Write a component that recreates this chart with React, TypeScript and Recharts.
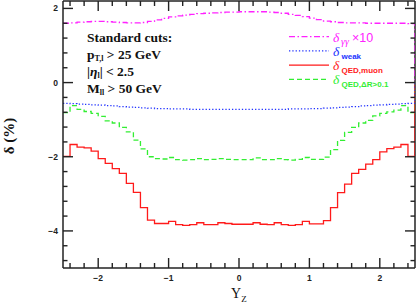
import { LineChart, Line, XAxis, YAxis, ReferenceLine } from 'recharts';

// lower edges of the 0.1-wide Y_Z bins
const BIN_LO = [
  -2.5, -2.4, -2.3, -2.2, -2.1, -2.0, -1.9, -1.8, -1.7, -1.6,
  -1.5, -1.4, -1.3, -1.2, -1.1, -1.0, -0.9, -0.8, -0.7, -0.6,
  -0.5, -0.4, -0.3, -0.2, -0.1, 0, 0.1, 0.2, 0.3, 0.4,
  0.5, 0.6, 0.7, 0.8, 0.9, 1.0, 1.1, 1.2, 1.3, 1.4,
  1.5, 1.6, 1.7, 1.8, 1.9, 2.0, 2.1, 2.2, 2.3, 2.4,
];
const X_END = 2.5;

const MUON = [
  -1.99, -1.67, -1.74, -1.76, -1.85, -2.05, -2.18, -2.32, -2.45, -2.72,
  -2.96, -3.37, -3.71, -3.8, -3.8, -3.74, -3.83, -3.85, -3.83, -3.78,
  -3.83, -3.83, -3.78, -3.8, -3.82, -3.82, -3.82, -3.78, -3.82, -3.83,
  -3.78, -3.83, -3.85, -3.83, -3.74, -3.81, -3.81, -3.72, -3.37, -2.97,
  -2.74, -2.45, -2.34, -2.2, -2.08, -1.87, -1.78, -1.74, -1.67, -1.99,
];
const DR01 = [
  -0.81, -0.62, -0.72, -0.78, -0.83, -0.91, -1.03, -1.09, -1.21, -1.33,
  -1.55, -1.79, -2.0, -2.05, -2.06, -2.02, -2.08, -2.09, -2.08, -2.05,
  -2.08, -2.07, -2.05, -2.07, -2.08, -2.08, -2.08, -2.03, -2.08, -2.08,
  -2.05, -2.08, -2.09, -2.07, -2.02, -2.07, -2.07, -2.01, -1.81, -1.56,
  -1.34, -1.21, -1.09, -1.02, -0.9, -0.83, -0.79, -0.74, -0.62, -0.81,
];
const WEAK = [
  -0.56, -0.57, -0.58, -0.59, -0.6, -0.61, -0.62, -0.63, -0.65, -0.66,
  -0.67, -0.68, -0.69, -0.7, -0.7, -0.71, -0.71, -0.71, -0.72, -0.72,
  -0.72, -0.72, -0.72, -0.72, -0.72, -0.72, -0.72, -0.72, -0.72, -0.72,
  -0.72, -0.72, -0.71, -0.71, -0.71, -0.7, -0.7, -0.69, -0.68, -0.67,
  -0.66, -0.65, -0.63, -0.62, -0.61, -0.6, -0.59, -0.58, -0.57, -0.56,
];
const GG10 = [
  1.6, 1.61, 1.63, 1.64, 1.65, 1.65, 1.64, 1.63, 1.62, 1.61,
  1.61, 1.62, 1.65, 1.69, 1.73, 1.77, 1.8, 1.82, 1.84, 1.86,
  1.87, 1.88, 1.89, 1.9, 1.9, 1.91, 1.91, 1.91, 1.91, 1.9,
  1.89, 1.87, 1.84, 1.81, 1.78, 1.74, 1.7, 1.66, 1.64, 1.62,
  1.61, 1.61, 1.61, 1.6, 1.6, 1.6, 1.6, 1.6, 1.6, 1.59,
];

const X_TICKS = [
  -2.4, -2.2, -2, -1.8, -1.6, -1.4, -1.2, -1, -0.8, -0.6, -0.4, -0.2, 0,
  0.2, 0.4, 0.6, 0.8, 1, 1.2, 1.4, 1.6, 1.8, 2, 2.2, 2.4,
];
const X_MAJOR = [-2, -1, 0, 1, 2];
const Y_TICKS = [
  -4.8, -4.4, -4, -3.6, -3.2, -2.8, -2.4, -2, -1.6, -1.2, -0.8, -0.4, 0,
  0.4, 0.8, 1.2, 1.6, 2,
];
const Y_MAJOR = [-4, -2, 0, 2];
const X_DOMAIN = [-2.5, 2.5];
const Y_DOMAIN = [-5, 2.2];

const W = 416;
const H = 303;
const MARGIN = { top: 1, right: 1, bottom: 0, left: 1 };
const Y_AXIS_W = 62;
const X_AXIS_H = 35;
const PLOT_L = MARGIN.left + Y_AXIS_W;
const PLOT_R = W - MARGIN.right;
const PLOT_T = MARGIN.top;
const PLOT_B = H - X_AXIS_H;

const INK = '#222';
const SANS = '"Liberation Sans", Arial, sans-serif';
const SERIF = '"Liberation Serif", "Times New Roman", serif';

const SERIES = [
  { key: 'dr', color: '#33ee33', dash: '5 3', sub: 'QED,ΔR>0.1' },
  { key: 'muon', color: '#ff1a1a', dash: undefined, sub: 'QED,muon' },
  { key: 'weak', color: '#2233ff', dash: '1.3 2', sub: 'weak' },
  { key: 'gg', color: '#ff22ff', dash: '6 2.5 1.5 2.5', sub: 'γγ' },
];

const rows = BIN_LO.map((x, i) => ({ x, muon: MUON[i], dr: DR01[i], weak: WEAK[i], gg: GG10[i] }));
const last = rows.length - 1;
// close the last bin, then drop back to zero along the right edge
rows.push({ x: X_END, muon: MUON[last], dr: DR01[last], weak: WEAK[last], gg: GG10[last] });
rows.push({ x: X_END, muon: 0, dr: 0, weak: 0, gg: 0 });

const fmt = (v: number) => (v < 0 ? `−${Math.abs(v)}` : `${v}`);

function XTick(props: any) {
  const { x, payload } = props;
  const v = payload.value;
  const major = X_MAJOR.includes(v);
  const len = major ? 10 : 5;
  return (
    <g>
      <line x1={x} y1={PLOT_B} x2={x} y2={PLOT_B - len} stroke={INK} strokeWidth={1.4} />
      <line x1={x} y1={PLOT_T} x2={x} y2={PLOT_T + len} stroke={INK} strokeWidth={1.4} />
      {major && (
        <text x={x} y={PLOT_B + 13} textAnchor="middle" fontFamily={SANS} fontWeight="bold" fontSize={8.5} fill={INK}>
          {fmt(v)}
        </text>
      )}
    </g>
  );
}

function YTick(props: any) {
  const { y, payload } = props;
  const v = payload.value;
  const major = Y_MAJOR.includes(v);
  const len = major ? 10 : 4.5;
  return (
    <g>
      <line x1={PLOT_L} y1={y} x2={PLOT_L + len} y2={y} stroke={INK} strokeWidth={1.4} />
      <line x1={PLOT_R} y1={y} x2={PLOT_R - len} y2={y} stroke={INK} strokeWidth={1.4} />
      {major && (
        <text x={PLOT_L - 5} y={y + 3} textAnchor="end" fontFamily={SANS} fontWeight="bold" fontSize={8.5} fill={INK}>
          {fmt(v)}
        </text>
      )}
    </g>
  );
}

function Notes() {
  const legendRows = [SERIES[3], SERIES[2], SERIES[1], SERIES[0]];
  return (
    <svg width={W} height={H} style={{ position: 'absolute', left: 0, top: 0, pointerEvents: 'none' }}>
      <g fontFamily={SERIF} fontWeight="bold" fontSize={13.5} fill="#111">
        <text x={87} y={42}>Standard cuts:</text>
        <text x={87} y={59}>
          p<tspan fontSize={8} dy={2}>T,l</tspan>
          <tspan dy={-2}> &gt; 25 GeV</tspan>
        </text>
        <text x={87} y={76}>
          |<tspan fontStyle="italic">η</tspan>
          <tspan fontSize={8} dy={2}>l</tspan>
          <tspan dy={-2}>| &lt; 2.5</tspan>
        </text>
        <text x={87} y={93}>
          M<tspan fontSize={8} dy={2}>ll</tspan>
          <tspan dy={-2}> &gt; 50 GeV</tspan>
        </text>
      </g>

      {legendRows.map((s, i) => {
        const ry = 36.7 + i * 14.2;
        return (
          <g key={s.key}>
            <line x1={289} y1={ry} x2={329} y2={ry} stroke={s.color} strokeWidth={1.3} strokeDasharray={s.dash} />
            <text x={333} y={ry + 5} fill={s.color} fontFamily={SERIF} fontStyle="italic" fontSize={13.5}>
              δ
            </text>
            {s.key === 'gg' ? (
              <>
                <text x={341} y={ry + 8} fill={s.color} fontFamily={SERIF} fontStyle="italic" fontSize={10}>
                  γγ
                </text>
                <text x={352} y={ry + 5} fill={s.color} fontFamily={SANS} fontSize={12.5}>
                  ×10
                </text>
              </>
            ) : (
              <text x={341.5} y={ry + 8} fill={s.color} fontFamily={SANS} fontWeight="bold" fontSize={8}>
                {s.sub}
              </text>
            )}
          </g>
        );
      })}

      <text x={231} y={298} fontFamily={SERIF} fontSize={14} fill="#111">
        Y<tspan fontSize={9} dy={4}>Z</tspan>
      </text>
      <text
        x={14}
        y={136}
        transform="rotate(-90 14 136)"
        textAnchor="middle"
        fontFamily={SERIF}
        fontWeight="bold"
        fontSize={15}
        fill="#111"
      >
        δ (%)
      </text>
    </svg>
  );
}

export default function App() {
  return (
    <div style={{ position: 'absolute', left: 0, top: 0, width: W, height: H, background: '#fff' }}>
      <LineChart width={W} height={H} data={rows} margin={MARGIN}>
        <XAxis
          dataKey="x"
          type="number"
          domain={X_DOMAIN}
          allowDataOverflow
          ticks={X_TICKS}
          interval={0}
          height={X_AXIS_H}
          tickSize={0}
          tickMargin={0}
          tickLine={false}
          axisLine={{ stroke: INK, strokeWidth: 1.5 }}
          tick={(p: any) => <XTick {...p} />}
        />
        <YAxis
          type="number"
          domain={Y_DOMAIN}
          allowDataOverflow
          ticks={Y_TICKS}
          interval={0}
          width={Y_AXIS_W}
          tickSize={0}
          tickMargin={0}
          tickLine={false}
          axisLine={{ stroke: INK, strokeWidth: 1.5 }}
          tick={(p: any) => <YTick {...p} />}
        />
        <ReferenceLine y={Y_DOMAIN[1]} stroke={INK} strokeWidth={1.5} />
        <ReferenceLine x={X_DOMAIN[1]} stroke={INK} strokeWidth={1.5} />
        {SERIES.map(s => (
          <Line
            key={s.key}
            dataKey={s.key}
            type="stepAfter"
            stroke={s.color}
            strokeWidth={1.3}
            strokeDasharray={s.dash}
            dot={false}
            activeDot={false}
            isAnimationActive={false}
          />
        ))}
      </LineChart>
      <Notes />
    </div>
  );
}
